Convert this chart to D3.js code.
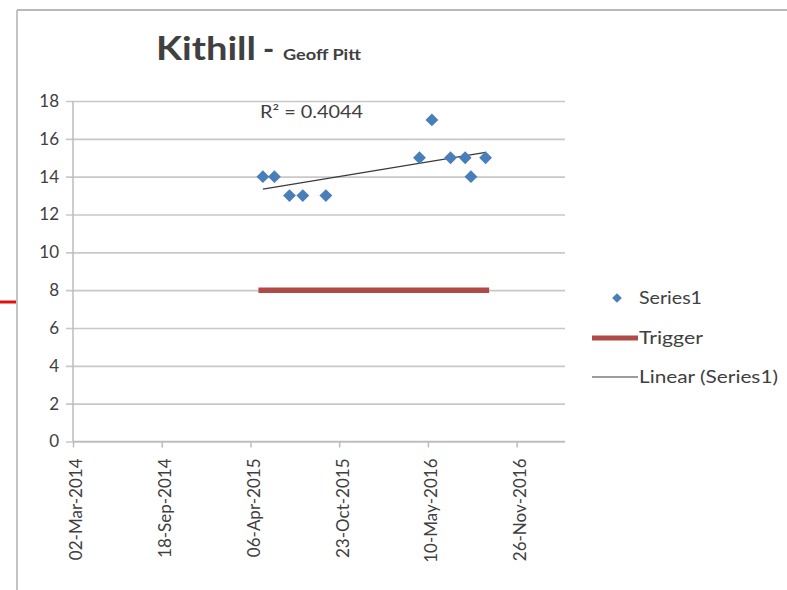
<!DOCTYPE html>
<html>
<head>
<meta charset="utf-8">
<script src="https://cdn.jsdelivr.net/npm/d3@7"></script>
<style>
  html, body { margin: 0; padding: 0; background: #fff; }
  svg { display: block; }
  text { font-family: Lato, "Open Sans", sans-serif; fill: #404040; }
</style>
</head>
<body>
<svg id="chart" width="787" height="590"></svg>
<script>
// Sample dates and readings (Series1)
const sampleDates = ["2015-05-04", "2015-05-30", "2015-07-03", "2015-08-02", "2015-09-23",
                     "2016-04-21", "2016-05-19", "2016-06-30", "2016-08-02", "2016-08-15", "2016-09-17"];
const sampleValues = [14, 14, 13, 13, 13, 15, 17, 15, 15, 14, 15];

// Trigger level and the period it covers
const triggerDates = ["2015-04-24", "2016-09-25"];
const triggerValue = 8;

// Axis settings
const xStart = "2014-03-02";
const xMajorDays = 200;
const xSpanDays = 1100;
const yTicks = [0, 2, 4, 6, 8, 10, 12, 14, 16, 18];

const r2Label = "R\u00B2 = 0.4044";
const legendLabels = ["Series1", "Trigger", "Linear (Series1)"];
const legendWidths = [63, 64, 139];

const parse = d3.utcParse("%Y-%m-%d");
const fmt = d3.utcFormat("%d-%b-%Y");

const svg = d3.select("#chart");

// outer frame
svg.append("line").attr("x1", 17).attr("x2", 787).attr("y1", 10).attr("y2", 10)
  .attr("stroke", "#b8b8b8").attr("stroke-width", 2);
svg.append("line").attr("x1", 17).attr("x2", 17).attr("y1", 10).attr("y2", 590)
  .attr("stroke", "#c4c4c4").attr("stroke-width", 2);
svg.append("line").attr("x1", 0).attr("x2", 16).attr("y1", 302).attr("y2", 302)
  .attr("stroke", "#e01010").attr("stroke-width", 3);

const x0 = parse(xStart);
const x1 = d3.utcDay.offset(x0, xSpanDays);
const x = d3.scaleUtc().domain([x0, x1]).range([73, 561]);
const y = d3.scaleLinear().domain([0, 18]).range([441.5, 101]);

// horizontal gridlines
svg.append("g")
  .attr("transform", "translate(73,0)")
  .call(d3.axisLeft(y).tickValues(yTicks).tickSize(-492).tickPadding(14).tickFormat(d3.format("d")))
  .call(g => g.select(".domain").remove())
  .call(g => g.selectAll(".tick line").attr("stroke", "#c8c8c8").attr("stroke-width", 1.6).attr("x1", -7))
  .call(g => g.selectAll(".tick text").attr("font-size", 17).attr("fill", "#454545")
    .attr("font-family", "Lato, sans-serif"));

// vertical axis line
svg.append("line").attr("x1", 73).attr("x2", 73).attr("y1", 101).attr("y2", 441.5)
  .attr("stroke", "#bdbdbd").attr("stroke-width", 1.5);

// x axis
const xTicks = d3.utcDay.range(x0, x1, xMajorDays);
const xAxis = svg.append("g")
  .attr("transform", "translate(0,441.5)")
  .call(d3.axisBottom(x).tickValues(xTicks).tickSize(6).tickFormat(fmt))
  .call(g => g.select(".domain").attr("stroke", "#bdbdbd").attr("stroke-width", 1.5)
    .attr("d", "M73,0H565"))
  .call(g => g.selectAll(".tick line").attr("stroke", "#bdbdbd").attr("stroke-width", 1.5));
xAxis.selectAll(".tick text")
  .attr("font-size", 17).attr("fill", "#454545").attr("font-family", "Lato, sans-serif")
  .attr("text-anchor", "end")
  .attr("transform", "rotate(-90)")
  .attr("x", -17).attr("y", 3).attr("dy", "0.35em");

// trigger line
svg.append("line")
  .attr("x1", x(parse(triggerDates[0]))).attr("x2", x(parse(triggerDates[1])))
  .attr("y1", y(triggerValue)).attr("y2", y(triggerValue))
  .attr("stroke", "#b04a47").attr("stroke-width", 5.5);

// linear trend (least squares on day numbers)
const pts = sampleDates.map((d, i) => ({ t: parse(d), v: sampleValues[i] }));
const xs = pts.map(p => (p.t - x0) / 864e5);
const ys = pts.map(p => p.v);
const mx = d3.mean(xs), my = d3.mean(ys);
const sxy = d3.sum(xs, (xv, i) => (xv - mx) * (ys[i] - my));
const sxx = d3.sum(xs, xv => (xv - mx) ** 2);
const slope = sxy / sxx, icpt = my - slope * mx;
const tMin = d3.min(xs), tMax = d3.max(xs);
svg.append("line")
  .attr("x1", x(d3.utcDay.offset(x0, tMin))).attr("y1", y(icpt + slope * tMin))
  .attr("x2", x(d3.utcDay.offset(x0, tMax))).attr("y2", y(icpt + slope * tMax))
  .attr("stroke", "#3a3a3a").attr("stroke-width", 1.2);

// data points
const diamond = d3.symbol().type(d3.symbolDiamond2).size(105);
svg.append("g").selectAll("path").data(pts).join("path")
  .attr("d", diamond)
  .attr("transform", p => `translate(${x(p.t)},${y(p.v)})`)
  .attr("fill", "#4a7ebb");

// R² label
svg.append("text").attr("x", 260).attr("y", 118).attr("font-size", 17)
  .attr("fill", "#404040").attr("textLength", 103).attr("lengthAdjust", "spacingAndGlyphs").text(r2Label);

// title
svg.append("text").attr("x", 156).attr("y", 60).attr("font-size", 33).attr("font-weight", 700)
  .attr("fill", "#111").attr("textLength", 100).attr("lengthAdjust", "spacingAndGlyphs").text("Kithill");
svg.append("text").attr("x", 263).attr("y", 60).attr("font-size", 30).attr("font-weight", 700)
  .attr("fill", "#111").text("-");
svg.append("text").attr("x", 283).attr("y", 60).attr("font-size", 15).attr("font-weight", 700)
  .attr("fill", "#111").attr("textLength", 78).attr("lengthAdjust", "spacingAndGlyphs").text("Geoff Pitt");

// legend
const lg = svg.append("g");
const legendY = [298, 338, 377];
lg.append("path").attr("d", d3.symbol().type(d3.symbolDiamond2).size(60))
  .attr("transform", `translate(617,${legendY[0]})`).attr("fill", "#4a7ebb");
lg.append("line").attr("x1", 592).attr("x2", 638).attr("y1", legendY[1]).attr("y2", legendY[1])
  .attr("stroke", "#b04a47").attr("stroke-width", 5);
lg.append("line").attr("x1", 592).attr("x2", 638).attr("y1", legendY[2]).attr("y2", legendY[2])
  .attr("stroke", "#3a3a3a").attr("stroke-width", 1.2);
lg.selectAll("text").data(legendLabels).join("text")
  .attr("x", 639).attr("y", (d, i) => legendY[i]).attr("dy", "0.35em")
  .attr("font-size", 18).attr("fill", "#404040")
  .attr("textLength", (d, i) => legendWidths[i]).attr("lengthAdjust", "spacingAndGlyphs")
  .text(d => d);
</script>
</body>
</html>
